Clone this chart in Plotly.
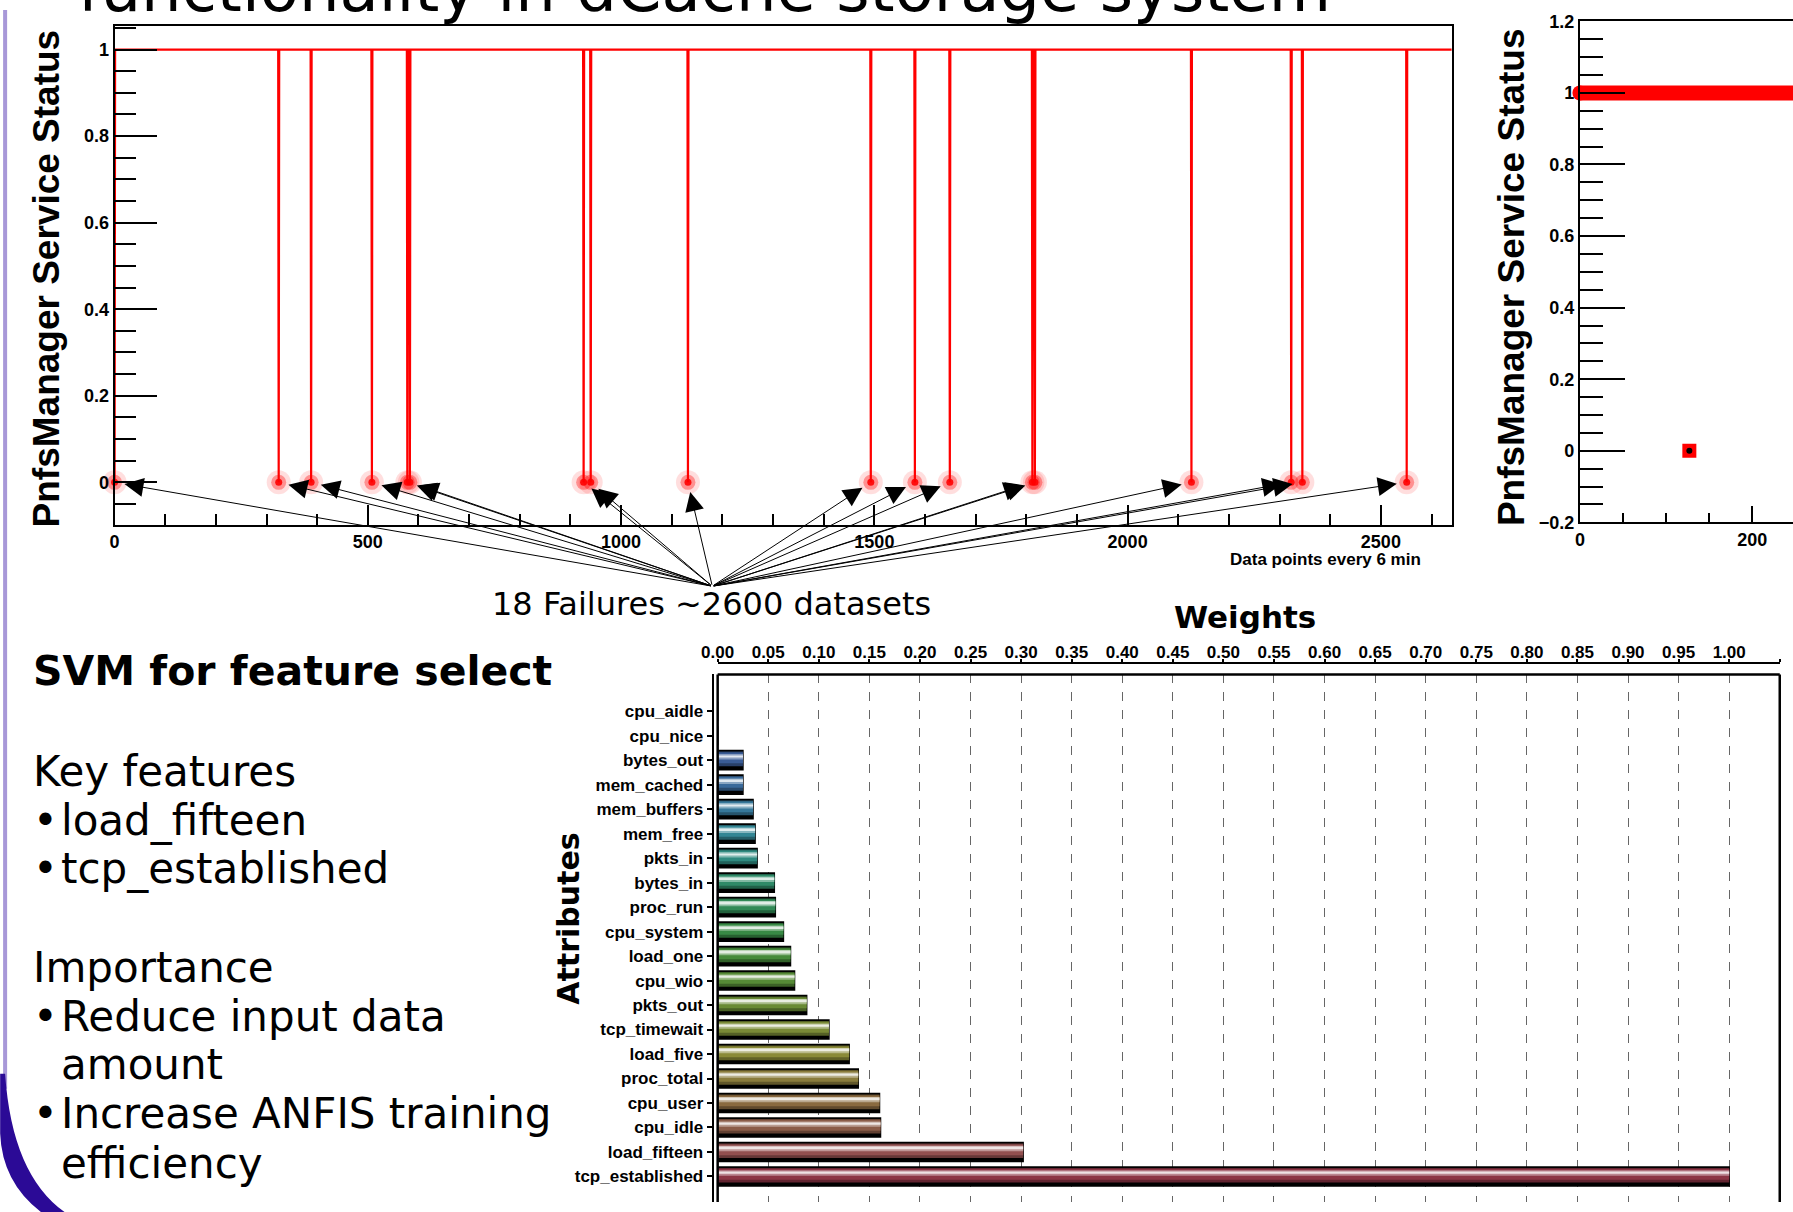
import plotly.graph_objects as go

W, H = 1793, 1212

# ---------------- data ----------------
# top-left chart: PnfsManager status (1 = up, 0 = failure), data points every 6 min
failure_idx = [0, 324, 388, 508, 578, 583, 926, 940, 1132, 1493, 1580, 1649, 1812, 1817, 2126, 2323, 2345, 2551]
n_datasets = 2640
status_up = 1
status_down = 0
x_ticks_main = [0, 500, 1000, 1500, 2000, 2500]

# top-right (cut) chart
right_fail_idx = [127]
right_last_idx = 260

# bottom chart: SVM weights
attributes = ["cpu_aidle", "cpu_nice", "bytes_out", "mem_cached", "mem_buffers", "mem_free",
              "pkts_in", "bytes_in", "proc_run", "cpu_system", "load_one", "cpu_wio",
              "pkts_out", "tcp_timewait", "load_five", "proc_total", "cpu_user", "cpu_idle",
              "load_fifteen", "tcp_established"]
weights = [0.0, 0.0, 0.025, 0.025, 0.035, 0.037, 0.039, 0.056, 0.057, 0.065, 0.072, 0.076,
           0.088, 0.110, 0.130, 0.139, 0.160, 0.161, 0.302, 1.000]
bar_base = ['#34508f', '#34558f', '#3a5c96', '#3a6a9a', '#36789a', '#338694', '#2f8a80',
            '#2f8a68', '#318a56', '#388a45', '#468a3a', '#568a36', '#688a34', '#7a8a36',
            '#8a8a38', '#8a7c3c', '#8a6a40', '#8a5c48', '#925050', '#8c3444']
weight_ticks = [round(0.05 * i, 2) for i in range(22)]


# layout helpers: estimated reference position -> page pixel -> paper fraction
def cx(x):
    return 1.0107 * x - 17


def cy(y):
    return 1.01478 * y - 9.37


def px(x):
    return cx(x) / W


def py(y):
    return 1 - cy(y) / H


def mix(hexc, target, t):
    h = hexc.lstrip('#')
    r, g, b = int(h[0:2], 16), int(h[2:4], 16), int(h[4:6], 16)
    tr, tg, tb = target
    return '#%02x%02x%02x' % (round(r + (tr - r) * t), round(g + (tg - g) * t), round(b + (tb - b) * t))


fig = go.Figure()

# ---------------- top-left chart ----------------
sx, sy = [], []
for f in failure_idx:
    if f > 0:
        sx.append(f - 1); sy.append(status_up)
    sx.append(f); sy.append(status_down)
    sx.append(f + 1); sy.append(status_up)
sx.append(n_datasets); sy.append(status_up)

fig.add_trace(go.Scatter(x=sx, y=sy, mode='lines', line=dict(color='#ff0000', width=2.2),
                         xaxis='x', yaxis='y', hoverinfo='skip'))
for size, col in [(24, 'rgba(255,0,0,0.13)'), (15, 'rgba(255,0,0,0.35)'), (7, 'rgba(255,0,0,0.9)')]:
    fig.add_trace(go.Scatter(x=failure_idx, y=[status_down] * len(failure_idx), mode='markers',
                             marker=dict(size=size, color=col, line=dict(width=0)),
                             cliponaxis=False, xaxis='x', yaxis='y', hoverinfo='skip'))

# ---------------- top-right chart ----------------
fig.add_trace(go.Scatter(x=[0, right_last_idx], y=[status_up, status_up], mode='lines',
                         line=dict(color='#ff0000', width=15), xaxis='x2', yaxis='y2', hoverinfo='skip'))
fig.add_trace(go.Scatter(x=[0], y=[status_up], mode='markers', marker=dict(size=15, color='#ff0000'),
                         cliponaxis=False, xaxis='x2', yaxis='y2', hoverinfo='skip'))
fig.add_trace(go.Scatter(x=right_fail_idx, y=[status_down] * len(right_fail_idx), mode='markers',
                         marker=dict(size=14, color='#ff0000', symbol='square'),
                         xaxis='x2', yaxis='y2', hoverinfo='skip'))
fig.add_trace(go.Scatter(x=right_fail_idx, y=[status_down] * len(right_fail_idx), mode='markers',
                         marker=dict(size=6, color='#000000'),
                         xaxis='x2', yaxis='y2', hoverinfo='skip'))

# ---------------- bar chart ----------------
ypos = list(range(len(attributes)))
layers = [  # (width, offset, colour function)
    (0.78, -0.39, lambda c: '#000000'),
    (0.60, -0.35, lambda c: mix(c, (0, 0, 0), 0.3)),
    (0.44, -0.31, lambda c: c),
    (0.22, -0.25, lambda c: mix(c, (255, 255, 255), 0.4)),
    (0.08, -0.19, lambda c: mix(c, (255, 255, 255), 0.85)),
]
for i, (w, off, fn) in enumerate(layers):
    fig.add_trace(go.Bar(x=weights, y=ypos, orientation='h', width=w, offset=off,
                         marker=dict(color=[fn(c) for c in bar_base],
                                     line=dict(color='#000000', width=1.5 if i == 0 else 0)),
                         xaxis='x3', yaxis='y3', hoverinfo='skip'))

# ---------------- layout ----------------
bold_tick = dict(family='Liberation Sans', size=18, color='black', weight='bold')
bottom_ref = (H + 9.37) / 1.01478
bar_bottom_val = 19 + (bottom_ref - 1178) / 24.54

fig.update_layout(
    width=W, height=H, margin=dict(l=0, r=0, t=0, b=0),
    paper_bgcolor='white', plot_bgcolor='rgba(0,0,0,0)',
    showlegend=False, barmode='overlay', hovermode=False,
    font=dict(family='Liberation Sans', color='black'),
    xaxis=dict(domain=[px(114.3), px(1450)], range=[0, n_datasets], anchor='y',
               tickvals=x_ticks_main, ticks='inside', ticklen=20, tickwidth=2, tickcolor='black',
               minor=dict(dtick=100, tick0=0, ticks='inside', ticklen=11, tickwidth=2, tickcolor='black'),
               showline=True, linecolor='black', linewidth=2, mirror=True,
               showgrid=False, zeroline=False, tickfont=bold_tick),
    yaxis=dict(domain=[py(525), py(25)], range=[-0.098, 1.055], anchor='x',
               dtick=0.2, tick0=0, ticks='inside', ticklen=42, tickwidth=2, tickcolor='black',
               minor=dict(dtick=0.05, tick0=0, ticks='inside', ticklen=21, tickwidth=2, tickcolor='black'),
               showline=True, linecolor='black', linewidth=2, mirror=True,
               showgrid=False, zeroline=False, tickfont=bold_tick),
    xaxis2=dict(domain=[px(1578), 1.0], range=[0, 247.3], anchor='y2',
                dtick=200, tick0=0, ticks='inside', ticklen=16, tickwidth=2, tickcolor='black',
                minor=dict(dtick=50, tick0=0, ticks='inside', ticklen=9, tickwidth=2, tickcolor='black'),
                showline=True, linecolor='black', linewidth=2, mirror=True,
                showgrid=False, zeroline=False, tickfont=bold_tick),
    yaxis2=dict(domain=[py(522.6), py(20.6)], range=[-0.2, 1.2], anchor='x2',
                dtick=0.2, tick0=0, ticks='inside', ticklen=45, tickwidth=2, tickcolor='black',
                minor=dict(dtick=0.05, tick0=0, ticks='inside', ticklen=23, tickwidth=2, tickcolor='black'),
                showline=True, linecolor='black', linewidth=2, mirror=False,
                showgrid=False, zeroline=False, tickfont=bold_tick),
    xaxis3=dict(domain=[px(716.7), px(1777.6)], range=[0, 1.05], anchor='free', position=py(664),
                side='top', tickvals=weight_ticks, tickformat='.2f', ticks='outside', ticklen=3,
                ticklabelstandoff=-5,
                tickwidth=2, tickcolor='black', showline=True, linecolor='black', linewidth=2,
                showgrid=True, gridcolor='#666666', gridwidth=1, griddash='dash', zeroline=False,
                tickfont=dict(family='Liberation Sans', size=17, color='black', weight='bold')),
    yaxis3=dict(domain=[0, py(675)], range=[bar_bottom_val, -1.5], anchor='free',
                position=px(711.7), tickvals=ypos, ticktext=attributes, ticks='outside', ticklen=5,
                tickwidth=2, tickcolor='black', showline=True, linecolor='black', linewidth=2,
                showgrid=False, zeroline=False,
                tickfont=dict(family='Liberation Sans', size=17, color='black', weight='bold')),
)

frame_line = dict(color='black', width=2.5)
# slide-border corner, in page pixels
arc_pts = [(-17, 1075), (-12, 1075), (-5, 1178), (50, 1215), (26, 1215), (-15, 1185), (-17, 1135)]
arc = [(x / W, py(y)) for x, y in arc_pts]
shapes = [
    dict(type='line', xref='x3 domain', yref='y3 domain', x0=0, x1=1, y0=1, y1=1, line=frame_line, layer='above'),
    dict(type='line', xref='x3 domain', yref='y3 domain', x0=0, x1=0, y0=0, y1=1, line=frame_line, layer='above'),
    dict(type='line', xref='x3 domain', yref='y3 domain', x0=1, x1=1, y0=0, y1=1, line=frame_line, layer='above'),
    dict(type='line', xref='paper', yref='paper', x0=-12 / W, x1=-12 / W, y0=1, y1=py(1090),
         line=dict(color='#a898d8', width=4)),
    dict(type='path', xref='paper', yref='paper',
         path='M %f,%f L %f,%f Q %f,%f %f,%f L %f,%f Q %f,%f %f,%f Z' % tuple(v for p in arc for v in p),
         fillcolor='#2b0a96', line=dict(width=0)),
]
fig.update_layout(shapes=shapes)

ann = []


def text(x, y, s, size, family='DejaVu Sans', xanchor='left', yanchor='middle', angle=0, weight='normal'):
    ann.append(dict(xref='paper', yref='paper', x=px(x), y=py(y), text=s, showarrow=False,
                    xanchor=xanchor, yanchor=yanchor, textangle=angle,
                    font=dict(family=family, size=size, color='black', weight=weight)))


# slide title (cut at top)
text(76, 27, 'functionality in dCache storage system', 64, yanchor='bottom')

# top chart labels
text(46, 278, 'PnfsManager Service Status', 37, family='Liberation Sans', xanchor='center', angle=-90, weight='bold')
text(1509, 277, 'PnfsManager Service Status', 37, family='Liberation Sans', xanchor='center', angle=-90, weight='bold')
text(1421, 560, 'Data points every 6 min', 17, family='Liberation Sans', xanchor='right', weight='bold')
text(711, 604, '18 Failures ~2600 datasets', 32, xanchor='center')

# bar chart labels
text(1243, 617, 'Weights', 31, xanchor='center', weight='bold')
text(568, 920, 'Attributes', 30, xanchor='center', angle=-90, weight='bold')

# left text block
text(31, 672, 'SVM for feature select', 41, weight='bold')
text(31, 772, 'Key features', 42)
text(31, 821, '•', 42)
text(59, 821, 'load_fifteen', 42)
text(31, 869, '•', 42)
text(59, 869, 'tcp_established', 42)
text(31, 969, 'Importance', 42)
text(31, 1018, '•', 42)
text(59, 1018, 'Reduce input data', 42)
text(59, 1066, 'amount', 42)
text(31, 1115, '•', 42)
text(59, 1115, 'Increase ANFIS training', 42)
text(59, 1165, 'efficiency', 42)

# arrows from the caption to every failure
tail_x, tail_y = 1180, -0.24
for f in failure_idx:
    ann.append(dict(xref='x', yref='y', x=f, y=status_down, axref='x', ayref='y', ax=tail_x, ay=tail_y,
                    showarrow=True, arrowhead=2, arrowsize=3.8, arrowwidth=1, arrowcolor='black',
                    standoff=10, text=''))

fig.update_layout(annotations=ann)

fig.write_html('out.html', config={'displayModeBar': False})
